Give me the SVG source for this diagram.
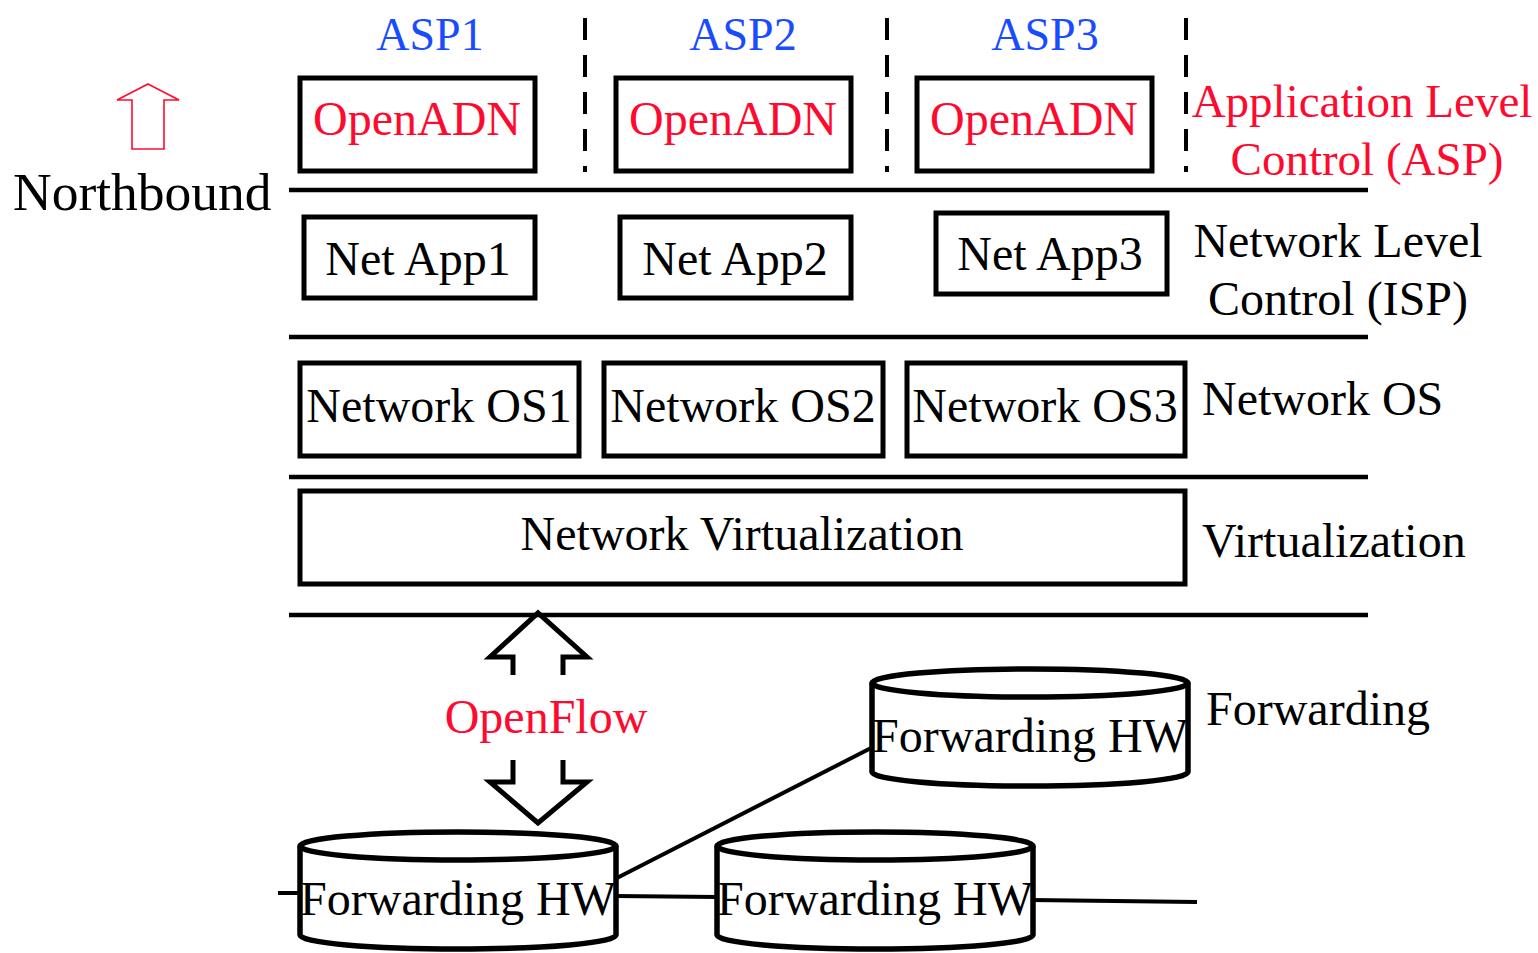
<svg xmlns="http://www.w3.org/2000/svg" width="1538" height="953" viewBox="0 0 1538 953">
<style>
text{font-family:"Liberation Serif","Times New Roman",serif;font-size:48px;fill:#000}
.red{fill:#ff0a2f}
.blue{fill:#1a4cff;font-size:46px}
.box{fill:#fff;stroke:#000;stroke-width:5}
.sep{stroke:#000;stroke-width:4.5;fill:none}
.dash{stroke:#000;stroke-width:4;stroke-dasharray:22 15;fill:none}
.cyl{fill:#fff;stroke:#000;stroke-width:5.5}
.link{stroke:#000;stroke-width:4;fill:none}
.mid{text-anchor:middle}
</style>
<g id="separators">
<line class="sep" x1="289" y1="190" x2="1368" y2="190"/>
<line class="sep" x1="289" y1="337" x2="1368" y2="337"/>
<line class="sep" x1="289" y1="477" x2="1368" y2="477"/>
<line class="sep" x1="289" y1="615" x2="1368" y2="615"/>
<line class="dash" x1="585" y1="18" x2="585" y2="172"/>
<line class="dash" x1="887" y1="18" x2="887" y2="172"/>
<line class="dash" x1="1186" y1="18" x2="1186" y2="172"/>
</g>
<g id="asp-labels">
<text class="blue mid" x="430" y="50">ASP1</text>
<text class="blue mid" x="743" y="50">ASP2</text>
<text class="blue mid" x="1045" y="50">ASP3</text>
</g>
<g id="openadn1"><rect class="box" x="300" y="78" width="235" height="93"/><text class="red mid" x="417" y="135">OpenADN</text></g>
<g id="openadn2"><rect class="box" x="616" y="78" width="235" height="93"/><text class="red mid" x="733" y="135">OpenADN</text></g>
<g id="openadn3"><rect class="box" x="917" y="78" width="235" height="93"/><text class="red mid" x="1034" y="135">OpenADN</text></g>
<g id="netapp1"><rect class="box" x="304" y="217" width="231" height="81"/><text class="mid" x="418" y="275">Net App1</text></g>
<g id="netapp2"><rect class="box" x="620" y="217" width="231" height="81"/><text class="mid" x="735" y="275">Net App2</text></g>
<g id="netapp3"><rect class="box" x="936" y="213" width="231" height="81"/><text class="mid" x="1050" y="270">Net App3</text></g>
<g id="netos1"><rect class="box" x="300" y="363" width="279" height="93"/><text class="mid" x="439" y="422">Network OS1</text></g>
<g id="netos2"><rect class="box" x="604" y="363" width="279" height="93"/><text class="mid" x="743" y="422">Network OS2</text></g>
<g id="netos3"><rect class="box" x="907" y="363" width="278" height="93"/><text class="mid" x="1045" y="422">Network OS3</text></g>
<g id="netvirt"><rect class="box" x="300" y="491" width="885" height="93"/><text class="mid" x="742" y="550">Network Virtualization</text></g>
<g id="layer-labels">
<text class="red mid" x="1362" y="117" style="font-size:47px">Application Level</text>
<text class="red mid" x="1367" y="175" style="font-size:47px">Control (ASP)</text>
<text class="mid" x="1338" y="257">Network Level</text>
<text class="mid" x="1338" y="315">Control (ISP)</text>
<text x="1202" y="415">Network OS</text>
<text x="1202" y="557">Virtualization</text>
<text x="1206" y="725">Forwarding</text>
</g>
<g id="northbound">
<polygon points="148,84 179,100 164,100 164,149 132,149 132,100 117,100" fill="none" stroke="#ff0a2f" stroke-width="1.6"/>
<text x="13" y="210" style="font-size:53.5px">Northbound</text>
</g>
<g id="openflow">
<polyline points="513,675 513,657 490,657 538,613 587,657 563,657 563,675" fill="none" stroke="#000" stroke-width="5"/>
<polyline points="513,760 513,782 490,782 538,823 587,782 563,782 563,760" fill="none" stroke="#000" stroke-width="5"/>
<text class="red mid" x="546" y="733">OpenFlow</text>
</g>
<g id="connectors">
<line class="link" x1="278" y1="893" x2="302" y2="893"/>
<line class="link" x1="615" y1="896" x2="718" y2="897"/>
<line class="link" x1="1031" y1="900" x2="1197" y2="902"/>
<line class="link" x1="615" y1="879" x2="873" y2="747"/>
</g>
<g id="fwd1">
<path class="cyl" d="M300,846 L300,935 A158,14 0 0 0 616,935 L616,846"/>
<ellipse class="cyl" cx="458" cy="846" rx="158" ry="14"/>
<text class="mid" x="458" y="915">Forwarding HW</text>
</g>
<g id="fwd2">
<path class="cyl" d="M717,846 L717,935 A158,14 0 0 0 1033,935 L1033,846"/>
<ellipse class="cyl" cx="875" cy="846" rx="158" ry="14"/>
<text class="mid" x="875" y="915">Forwarding HW</text>
</g>
<g id="fwd3">
<path class="cyl" d="M872,683 L872,772 A158,14 0 0 0 1188,772 L1188,683"/>
<ellipse class="cyl" cx="1030" cy="683" rx="158" ry="14"/>
<text class="mid" x="1030" y="752">Forwarding HW</text>
</g>
</svg>
